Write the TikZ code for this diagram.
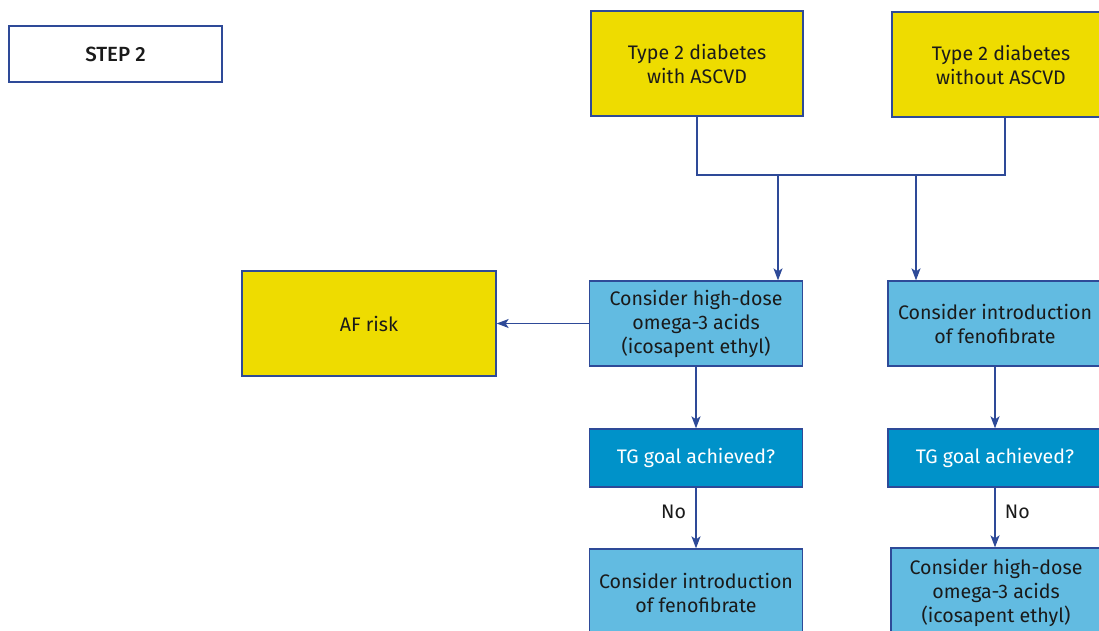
\documentclass[tikz,border=0pt]{standalone}
\usepackage{fontspec}
\setmainfont{Fira Sans}
\newfontfamily\headfont{Fira Sans Medium}
\usetikzlibrary{arrows.meta}
\definecolor{frame}{HTML}{2E4A98}
\definecolor{sun}{HTML}{EEDC00}
\definecolor{sky}{HTML}{62BBE1}
\definecolor{sea}{HTML}{0092C9}
\definecolor{ink}{HTML}{1A1A1A}
\tikzset{
  box/.style={draw=frame, line width=1.3pt, align=center, inner sep=2pt,
    font=\fontsize{19.6}{24}\selectfont, text=ink},
  yel/.style={box, fill=sun},
  lblue/.style={box, fill=sky},
  dblue/.style={box, fill=sea, text=white},
  link/.style={draw=frame, line width=1.3pt},
  arr/.style={link, -{Stealth[length=12pt,width=9pt,inset=3pt]}},
  lab/.style={font=\fontsize{19.6}{24}\selectfont, text=ink}
}
\begin{document}
\begin{tikzpicture}[x=1pt,y=-1pt]
\useasboundingbox (0,0) rectangle (1099,631);
\clip (0,0) rectangle (1099,631);

% header
\node[box, fill=white, font=\headfont\fontsize{20.5}{24}\selectfont, minimum width=213, minimum height=56] (step) at (115.5,54) {STEP 2};

% patient groups
\node[yel, minimum width=212, minimum height=105] (b1) at (697,63.5) {Type 2 diabetes\\with ASCVD};
\node[yel, minimum width=218, minimum height=105] (b2) at (1001,64.5) {Type 2 diabetes\\without ASCVD};

% treatment options
\node[yel, minimum width=254, minimum height=105] (af) at (369,323.5) {AF risk};
\node[lblue, minimum width=213, minimum height=85] (b3) at (696,323.5) {Consider high-dose\\omega-3 acids\\(icosapent ethyl)};
\node[lblue, minimum width=214, minimum height=85] (b4) at (995,323.5) {Consider introduction\\of fenofibrate};

% goal checks
\node[dblue, minimum width=213, minimum height=58] (tg1) at (696,458) {TG goal achieved?};
\node[dblue, minimum width=214, minimum height=58] (tg2) at (995,458) {TG goal achieved?};

% next steps
\node[lblue, minimum width=213, minimum height=88] (b5) at (696,593) {Consider introduction\\of fenofibrate};
\node[lblue, minimum width=210, minimum height=90] (b6) at (996,593) {Consider high-dose\\omega-3 acids\\(icosapent ethyl)};

% joining bracket under the two groups
\coordinate (j3) at (778,175);
\coordinate (j4) at (916,175);
\draw[link] (b1.south) |- (j3) -- (j4) -| ([xshift=4pt]b2.south);
\draw[arr] (j3) -- (j3 |- b3.north);
\draw[arr] (j4) -- (j4 |- b4.north);

% flow arrows
\draw[arr] (b3.west) -- (af.east);
\draw[arr] (b3.south) -- (tg1.north);
\draw[arr] (b4.south) -- (tg2.north);
\draw[arr] (tg1.south) -- node[lab, pos=0.4, left=6pt] {No} (tg1.south |- b5.north);
\draw[arr] (tg2.south) -- node[lab, pos=0.4, right=6pt] {No} (tg2.south |- b6.north);
\end{tikzpicture}
\end{document}
